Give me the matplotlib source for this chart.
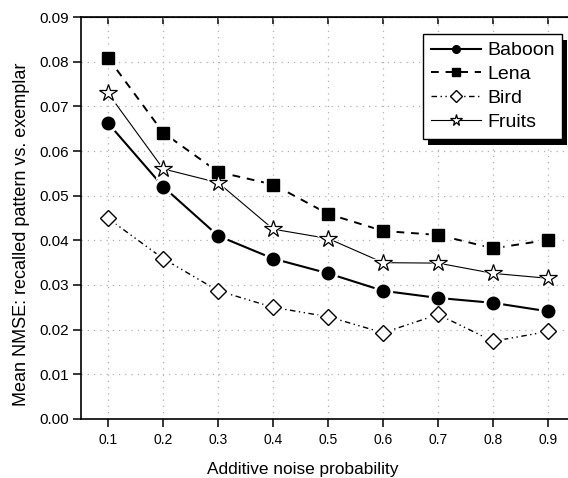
"""
Mean NMSE of recalled pattern vs exemplar for additive noise
"""

import numpy as np
import matplotlib.pyplot as plt
from matplotlib.patches import Rectangle

plt.rcParams["font.family"] = ["Liberation Sans", "DejaVu Sans"]
plt.rcParams.update({'font.size': 10})

noise = [0.1, 0.2, 0.3, 0.4, 0.5, 0.6, 0.7, 0.8, 0.9]
baboon = [0.0662, 0.0520, 0.0410, 0.0359, 0.0326, 0.0287, 0.0271, 0.0260, 0.0241]
lena = [0.0808, 0.0641, 0.0553, 0.0525, 0.0459, 0.0421, 0.0412, 0.0382, 0.0401]
bird = [0.0449, 0.0359, 0.0287, 0.0250, 0.0229, 0.0193, 0.0234, 0.0174, 0.0196]
fruits = [0.0729, 0.0560, 0.0529, 0.0425, 0.0404, 0.0350, 0.0349, 0.0326, 0.0315]

series = [
    ('Baboon', baboon, dict(ls='-', lw=1.5, marker='o', ms=9, lms=5.5, mfc='k', mec='k')),
    ('Lena', lena, dict(ls=(0, (4, 3.5)), lw=1.4, marker='s', ms=8.5, lms=5.5, mfc='k', mec='k')),
    ('Bird', bird, dict(ls=(0, (4, 2.5, 1, 2.5, 1, 2.5)), lw=1.0, marker='D', ms=8.5, lms=6, mfc='w', mec='k', mew=1.0)),
    ('Fruits', fruits, dict(ls='-', lw=0.8, marker='*', ms=13, lms=8.5, mfc='w', mec='k', mew=0.9)),
]

fig = plt.figure(figsize=(5.68, 4.78), dpi=100)
ax = fig.add_axes([80.7/568, 59/478, 495/568, 402/478])

handles = []
for name, vals, st in series:
    # line first, then a white halo so the line stops short of the marker
    ax.plot(noise, vals, ls=st['ls'], lw=st['lw'], color='k', zorder=2)
    ax.plot(noise, vals, ls='none', marker=st['marker'], ms=st['ms'] + 4,
            mfc='w', mec='w', zorder=3)
    ax.plot(noise, vals, ls='none', marker=st['marker'], ms=st['ms'],
            mfc=st['mfc'], mec=st['mec'], mew=st.get('mew', 1.0), zorder=4)
    h, = ax.plot([], [], color='k', ls=st['ls'], lw=st['lw'], marker=st['marker'],
                 ms=st['lms'], mfc=st['mfc'], mec=st['mec'], mew=st.get('mew', 1.0),
                 label=name)
    handles.append(h)

ax.set_xlim(0.05, 0.95)
ax.set_ylim(0, 0.09)
ax.set_xticks(noise)
ax.set_xticklabels(['%.1f' % v for v in noise])
ax.set_yticks(np.arange(0, 0.0901, 0.01))
ax.set_yticklabels(['%.2f' % v for v in np.arange(0, 0.0901, 0.01)])
ax.tick_params(direction='out', length=5.5, width=1.1)
ax.tick_params(axis='x', labelsize=10, pad=4.5)
ax.tick_params(axis='y', labelsize=11, pad=3)
ax.grid(True, color='#b0b0b0', ls=(0, (1, 4)), lw=0.9)
for sp in ax.spines.values():
    sp.set_linewidth(1.2)

top = ax.secondary_xaxis('top')
top.set_xticks(noise)
top.tick_params(direction='in', length=5, width=1.1, labeltop=False)

ax.set_xlabel('Additive noise probability', fontsize=12.4, va='baseline')
ax.xaxis.set_label_coords(0.448, (419 - 474) / 402)
ax.set_ylabel('Mean NMSE: recalled pattern vs. exemplar', fontsize=13, va='center')
ax.yaxis.set_label_coords((22 - 80.7) / 495, 0.46)

leg = fig.legend(handles=handles, loc='upper left', bbox_to_anchor=(423/568, 1 - 34/478),
                 fontsize=14, frameon=True, fancybox=False, edgecolor='k',
                 facecolor='w', framealpha=1,
                 handlelength=2.6, handletextpad=0.3, labelspacing=0.32,
                 borderpad=0.4, borderaxespad=0)
leg.get_frame().set_linewidth(1.0)
leg.set_zorder(10)

fig.canvas.draw()
bb = leg.get_window_extent()
shadow = Rectangle((bb.x0 + 5, bb.y0 - 6), bb.width, bb.height, transform=None,
                   facecolor='k', edgecolor='none', zorder=9)
fig.patches.append(shadow)

plt.savefig('out.png', dpi=100)
